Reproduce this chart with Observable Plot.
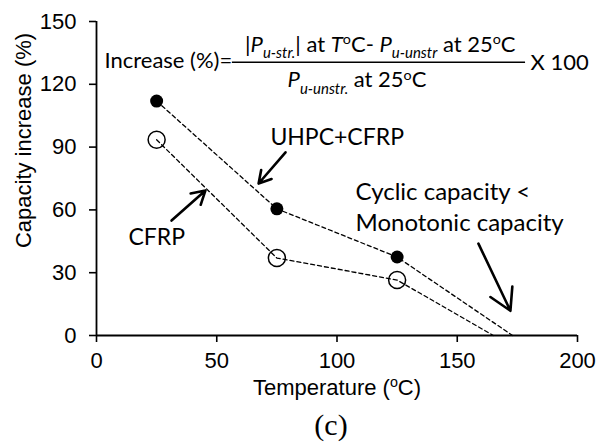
<!DOCTYPE html>
<html><head><meta charset="utf-8">
<script src="https://cdn.jsdelivr.net/npm/d3@7"></script>
<script src="https://cdn.jsdelivr.net/npm/@observablehq/plot@0.6"></script>
<style>body{margin:0;background:#fff}</style>
</head><body><div id="chart"></div>
<script>
// ---- data ----
const temperature = [25, 75, 125];
const uhpcCfrp = [112, 60.5, 37.5];
const cfrp = [93.5, 37, 26.5];
const zeroCrossing = [173, 165]; // UHPC+CFRP, CFRP: temperature where the dashed trend reaches 0
const xTicks = [0, 50, 100, 150, 200];
const yTicks = [0, 30, 60, 90, 120, 150];

// ---- annotations (data units) ----
const seriesLabels = ["UHPC+CFRP", "CFRP"];
const seriesLabelX = [72.3, 13.3];
const seriesLabelY = [94.6, 46.8];
const noteLabels = ["Cyclic capacity <", "Monotonic capacity"];
const noteLabelX = [107.7, 107.7];
const noteLabelY = [68.3, 53.5];

const arrowX1 = [78.6, 31.2, 158.8];
const arrowY1 = [87.5, 54.9, 43.9];
const arrowX2 = [67.4, 45.3, 172.1];
const arrowY2 = [72.6, 69.3, 11.8];

const formulaSegments = [
  [["Increase (%)=", "n"]],
  [["|", "n"], ["P", "i"], ["u-str.", "sub"], ["| at ", "n"], ["T", "i"], ["o", "sup"], ["C- ", "n"], ["P", "i"], ["u-unstr", "sub"], [" at 25", "n"], ["o", "sup"], ["C", "n"]],
  [["P", "i"], ["u-unstr.", "sub"], [" at 25", "n"], ["o", "sup"], ["C", "n"]],
  [["X 100", "n"]]
];
const formulaX = [3.3, 118, 108.3, 180.5];
const formulaY = [131, 139, 121.9, 130.1];
const formulaAnchor = ["start", "middle", "middle", "start"];
const fractionBarX = [56.5, 178.4];
const fractionBarY = [130.5];

const xLabelSegments = [["Temperature (", "n"], ["o", "sup"], ["C)", "n"]];
const yLabel = "Capacity increase (%)";
const caption = "(c)";

// ---- build tables ----
const plain = segs => segs.map(s => s[0]).join("");
const richMap = new Map();
formulaSegments.forEach(s => richMap.set(plain(s), s));
richMap.set(plain(xLabelSegments), xLabelSegments);

const lineUHPC = temperature.map((t, i) => ({t, v: uhpcCfrp[i]})).concat([{t: zeroCrossing[0], v: 0}]);
const lineCFRP = temperature.map((t, i) => ({t, v: cfrp[i]})).concat([{t: zeroCrossing[1], v: 0}]);
const ptsUHPC = temperature.map((t, i) => ({t, v: uhpcCfrp[i]}));
const ptsCFRP = temperature.map((t, i) => ({t, v: cfrp[i]}));
const seriesLabelData = seriesLabels.map((text, i) => ({text, x: seriesLabelX[i], y: seriesLabelY[i]}));
const noteLabelData = noteLabels.map((text, i) => ({text, x: noteLabelX[i], y: noteLabelY[i]}));
const arrowData = arrowX1.map((x1, i) => ({x1, y1: arrowY1[i], x2: arrowX2[i], y2: arrowY2[i]}));
const formulaData = formulaSegments.map((s, i) => ({text: plain(s), x: formulaX[i], y: formulaY[i], anchor: formulaAnchor[i]}));

const SANS = "Liberation Sans, Arial, sans-serif";
const CAL = "Lato, Open Sans, sans-serif";
const FORMULA_SIZE = 22;
const dash = "4,3";

const chart = Plot.plot({
  width: 597, height: 447,
  marginLeft: 96, marginRight: 20, marginTop: 21, marginBottom: 112,
  style: {fontFamily: SANS, color: "black", background: "white", overflow: "visible"},
  x: {domain: [0, 200]},
  y: {domain: [0, 150]},
  marks: [
    Plot.axisX(xTicks, {tickSize: 7, tickPadding: 10, fontSize: 22, label: null, strokeWidth: 1.6}),
    Plot.axisY(yTicks, {tickSize: 7, tickPadding: 13, fontSize: 22, label: null, strokeWidth: 1.6}),
    Plot.ruleX([0], {strokeWidth: 1.8}),
    Plot.ruleY([0], {strokeWidth: 1.8}),
    Plot.line(lineUHPC, {x: "t", y: "v", stroke: "black", strokeWidth: 1.3, strokeDasharray: dash}),
    Plot.line(lineCFRP, {x: "t", y: "v", stroke: "black", strokeWidth: 1.3, strokeDasharray: dash}),
    Plot.dot(ptsCFRP, {x: "t", y: "v", r: 8.5, stroke: "black", fill: "none", strokeWidth: 1.5}),
    Plot.dot(ptsUHPC, {x: "t", y: "v", r: 6.5, fill: "black", stroke: "none"}),
    Plot.arrow(arrowData, {x1: "x1", y1: "y1", x2: "x2", y2: "y2", stroke: "black", strokeWidth: 2.6, headLength: 14}),
    Plot.text(seriesLabelData, {x: "x", y: "y", text: "text", textAnchor: "start", lineAnchor: "middle", fontSize: 23, fontFamily: CAL, fill: "black"}),
    Plot.text(noteLabelData, {x: "x", y: "y", text: "text", textAnchor: "start", lineAnchor: "middle", fontSize: 24, fontFamily: CAL, fill: "black"}),
    Plot.text(formulaData.filter(d => d.anchor === "start"), {x: "x", y: "y", text: "text", textAnchor: "start", lineAnchor: "middle", fontSize: FORMULA_SIZE, fontFamily: CAL, fill: "black"}),
    Plot.text(formulaData.filter(d => d.anchor === "middle"), {x: "x", y: "y", text: "text", textAnchor: "middle", lineAnchor: "middle", fontSize: FORMULA_SIZE, fontFamily: CAL, fill: "black"}),
    Plot.ruleY(fractionBarY, {x1: fractionBarX[0], x2: fractionBarX[1], stroke: "black", strokeWidth: 1.6}),
    Plot.text([plain(xLabelSegments)], {frameAnchor: "bottom", dy: 52, textAnchor: "middle", lineAnchor: "middle", fontSize: 22, fill: "black"}),
    Plot.text([yLabel], {frameAnchor: "left", dx: -73, dy: -38, rotate: -90, textAnchor: "middle", lineAnchor: "middle", fontSize: 22, fill: "black"}),
    Plot.text([caption], {frameAnchor: "bottom", dx: -6, dy: 90, textAnchor: "middle", lineAnchor: "middle", fontSize: 30, fontFamily: "Liberation Serif, Times New Roman, serif", fill: "black"})
  ]
});
document.getElementById("chart").appendChild(chart);

// rich text: italic P, sub/superscripts
d3.select(chart).selectAll("text").each(function() {
  const segs = richMap.get(this.textContent);
  if (!segs) return;
  const size = parseFloat(getComputedStyle(this).fontSize);
  const el = d3.select(this);
  el.text(null);
  let shift = 0;
  for (const [txt, kind] of segs) {
    const ts = el.append("tspan").text(txt);
    let target = 0;
    if (kind === "sub") { ts.attr("font-size", size * 0.68).attr("font-style", "italic"); target = size * 0.28; }
    else if (kind === "sup") { ts.attr("font-size", size * 0.65); target = -size * 0.35; }
    else if (kind === "i") { ts.attr("font-style", "italic"); }
    if (target !== shift) { ts.attr("dy", target - shift); shift = target; }
  }
});
</script>
</body></html>
